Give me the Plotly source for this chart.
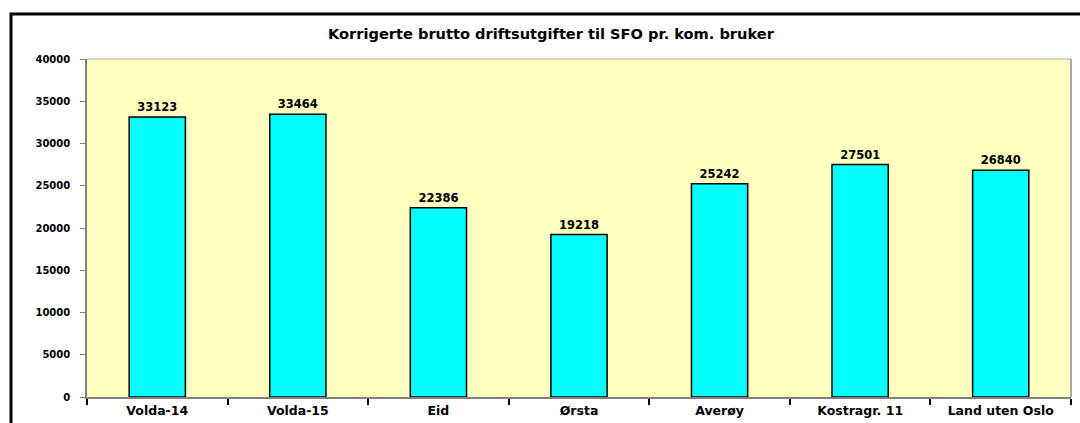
import plotly.graph_objects as go

categories = ["Volda-14", "Volda-15", "Eid", "Ørsta", "Averøy", "Kostragr. 11", "Land uten Oslo"]
values = [33123, 33464, 22386, 19218, 25242, 27501, 26840]
y_ticks = [0, 5000, 10000, 15000, 20000, 25000, 30000, 35000, 40000]
title_text = "Korrigerte brutto driftsutgifter til SFO pr. kom. bruker"

FONT = "DejaVu Sans"
W, H = 1080, 423
L, R, T, B = 87, 9, 59, 26
pw, ph = W - L - R, H - T - B

fig = go.Figure()
fig.add_trace(go.Bar(
    x=categories, y=values,
    marker=dict(color="#00FFFF", line=dict(color="#000000", width=1.5)),
    width=0.4,
    text=[str(v) for v in values],
    textposition="outside",
    textfont=dict(family=FONT, size=11.5, color="#000000"),
    texttemplate="<b>%{text}</b>",
    cliponaxis=False,
))

def px_x(x):
    return (x - L) / pw

def px_y(y):
    return (H - B - y) / ph

fig.add_shape(type="rect", xref="paper", yref="paper",
              x0=px_x(11), x1=px_x(1100), y0=px_y(440), y1=px_y(14),
              line=dict(color="#000000", width=3), fillcolor="rgba(0,0,0,0)", layer="below")

fig.add_annotation(text="<b>" + title_text + "</b>", xref="paper", yref="paper",
                   x=px_x(551), y=px_y(33), showarrow=False,
                   font=dict(family=FONT, size=14.6, color="#000000"),
                   xanchor="center", yanchor="middle")

fig.update_layout(
    width=W, height=H,
    margin=dict(l=L, r=R, t=T, b=B, autoexpand=False),
    paper_bgcolor="#FFFFFF",
    plot_bgcolor="#FFFFC0",
    showlegend=False,
    bargap=0.6,
    font=dict(family=FONT, color="#000000"),
)
fig.update_xaxes(
    type="category",
    tickson="boundaries",
    ticks="outside", ticklen=6, tickcolor="#000000", tickwidth=1.5,
    showline=True, linecolor="#808080", linewidth=1.5,
    mirror=False,
    tickvals=categories,
    ticktext=["<b>%s</b>" % c for c in categories],
    tickfont=dict(family=FONT, size=12.5, color="#000000"),
    ticklabelstandoff=1,
    showgrid=False,
    automargin=False,
)
fig.update_yaxes(
    range=[0, 40000],
    tickvals=y_ticks,
    ticktext=["<b>%d</b>" % v for v in y_ticks],
    ticks="outside", ticklen=5, tickcolor="#808080",
    showline=True, linecolor="#808080", linewidth=1.5,
    tickfont=dict(family=FONT, size=10, color="#000000"),
    ticklabelstandoff=8,
    showgrid=False, zeroline=False,
    automargin=False,
)
# plot-area top and right borders
fig.add_shape(type="line", xref="paper", yref="paper", x0=0, x1=1, y0=1, y1=1,
              line=dict(color="#C8C8B4", width=1.5))
fig.add_shape(type="line", xref="paper", yref="paper", x0=1, x1=1, y0=0, y1=1,
              line=dict(color="#909090", width=1.5))

fig.write_html("out.html", config={"displayModeBar": False},
               post_script="document.body.style.margin='0';document.body.style.overflow='hidden';")
